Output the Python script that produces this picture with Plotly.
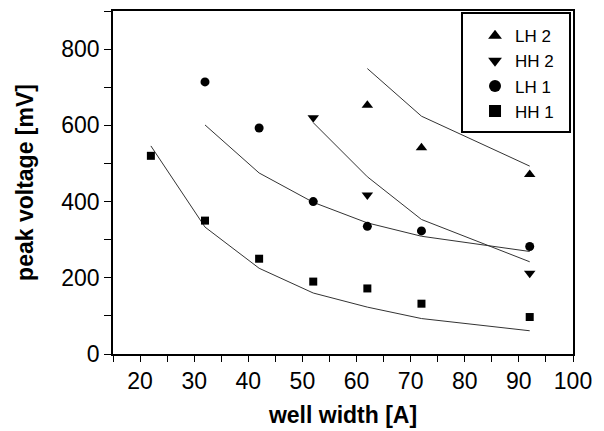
import plotly.graph_objects as go

# measured points
hh1_x = [22, 32, 42, 52, 62, 72, 92]
hh1_y = [520, 350, 250, 190, 172, 132, 97]
lh1_x = [32, 42, 52, 62, 72, 92]
lh1_y = [714, 593, 400, 335, 323, 282]
hh2_x = [52, 62, 92]
hh2_y = [620, 417, 212]
lh2_x = [62, 72, 92]
lh2_y = [653, 541, 471]

# calculated curves
hh1_calc_x = [22, 32, 42, 52, 62, 72, 92]
hh1_calc_y = [546, 333, 225, 160, 123, 93, 61]
lh1_calc_x = [32, 42, 52, 62, 72, 92]
lh1_calc_y = [601, 475, 398, 344, 309, 269]
hh2_calc_x = [52, 62, 72, 92]
hh2_calc_y = [607, 465, 353, 242]
lh2_calc_x = [62, 72, 92]
lh2_calc_y = [749, 624, 493]

FONT = "Liberation Sans, Arial, Helvetica, sans-serif"
LINE = "#333333"

fig = go.Figure()
for cx, cy in [(hh1_calc_x, hh1_calc_y), (lh1_calc_x, lh1_calc_y),
               (hh2_calc_x, hh2_calc_y), (lh2_calc_x, lh2_calc_y)]:
    fig.add_trace(go.Scatter(x=cx, y=cy, mode="lines", showlegend=False,
                             line=dict(color=LINE, width=1)))

for name, px, py, sym, sz in [("LH 2", lh2_x, lh2_y, "triangle-up", 10),
                              ("HH 2", hh2_x, hh2_y, "triangle-down", 10),
                              ("LH 1", lh1_x, lh1_y, "circle", 9),
                              ("HH 1", hh1_x, hh1_y, "square", 8)]:
    fig.add_trace(go.Scatter(x=px, y=py, mode="markers", name=name,
                             marker=dict(symbol=sym, size=sz, color="black")))

# legend frame
fig.add_shape(type="rect", xref="paper", yref="paper",
              x0=0.7587, x1=0.9935, y0=0.647, y1=0.994,
              line=dict(color="black", width=2), fillcolor="rgba(0,0,0,0)")

fig.update_layout(
    width=604, height=431,
    margin=dict(l=113, r=31, t=11, b=77, autoexpand=False),
    paper_bgcolor="white", plot_bgcolor="white",
    font=dict(family=FONT, color="black"),
    showlegend=True,
    legend=dict(x=0.787, xanchor="left", y=0.979, yanchor="top",
                borderwidth=0, bgcolor="rgba(0,0,0,0)",
                font=dict(size=17, family=FONT), traceorder="normal",
                tracegroupgap=0, itemsizing="constant"),
    xaxis=dict(range=[15, 100], dtick=10, tick0=0, ticks="outside", ticklen=6,
               tickwidth=1, tickcolor="black", showline=True, linecolor="black",
               linewidth=1.5, mirror=True, showgrid=False, zeroline=False,
               automargin=False, tickfont=dict(size=23),
               minor=dict(dtick=5, tick0=0, ticks="outside", ticklen=6,
                          tickcolor="black", showgrid=False),
               title=dict(text="<b>well width [A]</b>", font=dict(size=23), standoff=14)),
    yaxis=dict(range=[0, 900], tickvals=[0, 200, 400, 600, 800], ticks="outside",
               ticklen=7, tickwidth=1, tickcolor="black", showline=True,
               linecolor="black", linewidth=1.5, mirror=True, showgrid=False,
               zeroline=False, automargin=False, tickfont=dict(size=23),
               minor=dict(dtick=100, tick0=0, ticks="outside", ticklen=7,
                          tickcolor="black", showgrid=False),
               title=dict(text="<b>peak voltage [mV]</b>", font=dict(size=23), standoff=21)),
)

fig.write_html("out.html", config={"displayModeBar": False},
               post_script="document.body.style.margin='0';document.body.style.overflow='hidden';")
